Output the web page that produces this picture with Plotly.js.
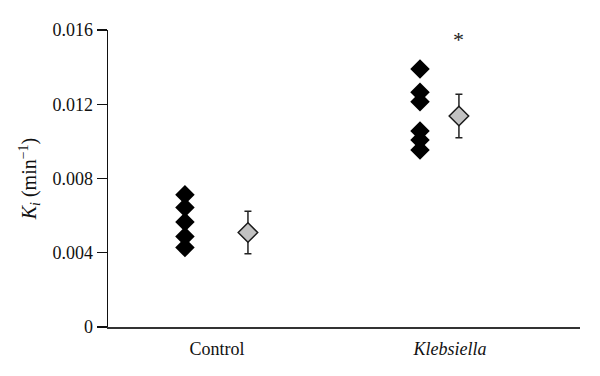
<!DOCTYPE html>
<html>
<head>
<meta charset="utf-8">
<script src="https://cdn.plot.ly/plotly-3.0.1.min.js"></script>
<style>html,body{margin:0;padding:0;background:#fff;}#chart{width:600px;height:376px;}</style>
</head>
<body>
<div id="chart"></div>
<script>
// ---- data ----
const categories = ["Control", "Klebsiella"];
const controlValues = [0.00712, 0.00644, 0.00565, 0.00488, 0.00428];
const klebsiellaValues = [0.0139, 0.01265, 0.01214, 0.01056, 0.01008, 0.00954];
const meanValues = [0.00509, 0.01137];
const errorValues = [0.00115, 0.00117];
const significanceMarks = ["", "*"];
const yTickValues = [0, 0.004, 0.008, 0.012, 0.016];
const yTickLabels = ["0", "0.004", "0.008", "0.012", "0.016"];

// ---- layout positions (not data) ----
const indPos = [0.326, 1.322];
const meanPos = [0.593, 1.487];
const labelPos = [0.462, 1.449];
const starOffset = 0.0041;

const font = "'Liberation Serif', 'DejaVu Serif', serif";

const groups = [controlValues, klebsiellaValues];
const traces = [];
groups.forEach((vals, i) => {
  traces.push({
    type: "scatter", mode: "markers",
    x: vals.map(() => indPos[i]), y: vals,
    marker: {symbol: "diamond", size: 15, color: "#000", line: {width: 0}},
    showlegend: false, hoverinfo: "y"
  });
});
traces.push({
  type: "scatter", mode: "markers",
  x: meanPos, y: meanValues,
  error_y: {type: "data", array: errorValues, visible: true, color: "#222", thickness: 1.5, width: 3.5},
  marker: {symbol: "diamond", size: 15, color: "#c2c2c2", line: {width: 1.5, color: "#1a1a1a"}},
  showlegend: false, hoverinfo: "y"
});

const annotations = [];
significanceMarks.forEach((m, i) => {
  if (m) annotations.push({
    x: meanPos[i], y: meanValues[i] + starOffset, xref: "x", yref: "y",
    text: m, showarrow: false, font: {family: font, size: 22, color: "#222"}
  });
});

const layout = {
  width: 600, height: 376,
  margin: {l: 108, r: 20, t: 30, b: 49},
  paper_bgcolor: "#fff", plot_bgcolor: "#fff",
  font: {family: font, size: 16, color: "#111"},
  xaxis: {
    range: [0, 2], showgrid: false, zeroline: false,
    showline: true, linecolor: "#333", linewidth: 2,
    tickmode: "array", tickvals: labelPos,
    ticktext: categories.map(c => c === "Klebsiella" ? "<i>" + c + "</i>" : c),
    ticks: "", ticklabelstandoff: 4,
    tickfont: {family: font, size: 18, color: "#111"}
  },
  yaxis: {
    range: [0, 0.016], showgrid: false, zeroline: false,
    showline: true, linecolor: "#111", linewidth: 1.5,
    tickmode: "array", tickvals: yTickValues, ticktext: yTickLabels,
    ticks: "outside", ticklen: 10, tickwidth: 1.3, tickcolor: "#111",
    tickfont: {family: font, size: 18, color: "#111"},
    title: {text: "<i>K<sub>i</sub></i> (min<sup>−1</sup>)", font: {family: font, size: 20, color: "#111"}, standoff: 10}
  },
  annotations: annotations
};

Plotly.newPlot("chart", traces, layout, {displayModeBar: false, staticPlot: true});
</script>
</body>
</html>
